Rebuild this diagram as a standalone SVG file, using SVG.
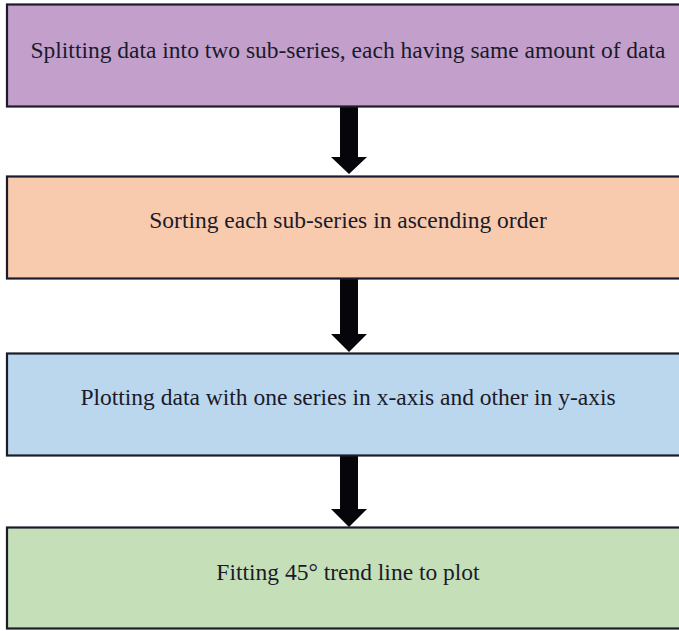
<svg xmlns="http://www.w3.org/2000/svg" width="679" height="631" viewBox="0 0 679 631">
  <style>
    .box { stroke: #1b1b2b; stroke-width: 2.2; }
    .label { font-family: "Liberation Serif", "Times New Roman", serif; font-size: 23.5px; fill: #1a1a2a; text-anchor: middle; }
    .arrow { fill: #05050a; }
  </style>
  <rect width="679" height="631" fill="#ffffff"/>
  <g id="connectors">
    <polygon class="arrow" points="340,107 358,107 358,157 367,157 349,174 331,157 340,157"/>
    <polygon class="arrow" points="340,279 358,279 358,334 367,334 349,352 331,334 340,334"/>
    <polygon class="arrow" points="340,456 358,456 358,509 367,509 349,527 331,509 340,509"/>
  </g>
  <g id="split">
    <rect class="box" x="7" y="4.5" width="690" height="102" fill="#c3a0cc"/>
    <text class="label" x="348" y="58">Splitting data into two sub-series, each having same amount of data</text>
  </g>
  <g id="sort">
    <rect class="box" x="7" y="176.5" width="690" height="102" fill="#f8cbae"/>
    <text class="label" x="348" y="228">Sorting each sub-series in ascending order</text>
  </g>
  <g id="plot">
    <rect class="box" x="7" y="353.5" width="690" height="102" fill="#bbd7ee"/>
    <text class="label" x="348" y="405">Plotting data with one series in x-axis and other in y-axis</text>
  </g>
  <g id="fit">
    <rect class="box" x="7" y="527.5" width="690" height="101" fill="#c5e0b8"/>
    <text class="label" x="348" y="580">Fitting 45° trend line to plot</text>
  </g>
</svg>
